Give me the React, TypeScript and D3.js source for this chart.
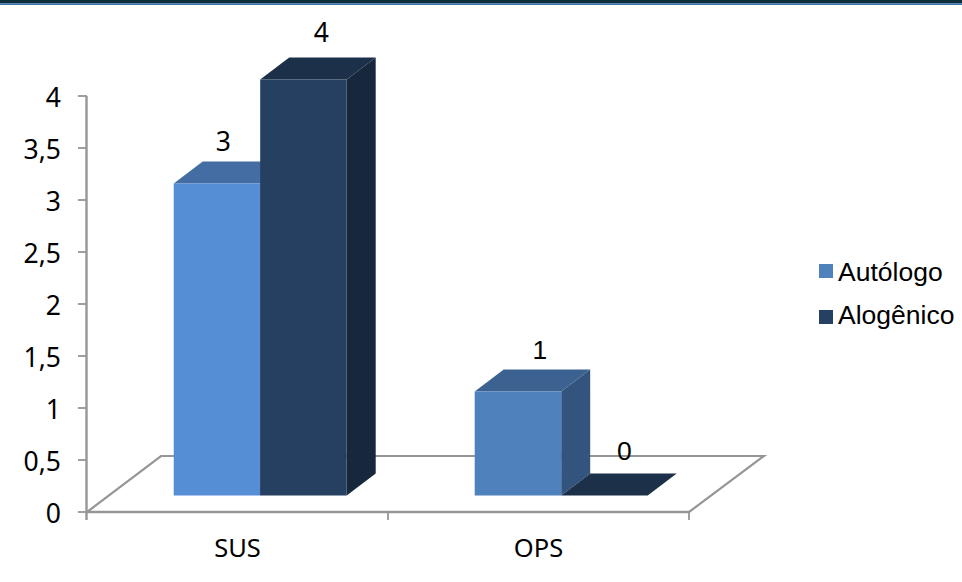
import React from "react";
import * as d3 from "d3";

const categories = ["SUS", "OPS"];
const seriesNames = ["Autólogo", "Alogênico"];
const autologo = [3, 1];
const alogenico = [4, 0];
const yTicks = [0, 0.5, 1, 1.5, 2, 2.5, 3, 3.5, 4];
const tickLabels = ["0", "0,5", "1", "1,5", "2", "2,5", "3", "3,5", "4"];

const uiFont = "'Noto Sans', 'Open Sans', sans-serif";
const legendFont = "'Liberation Sans', Arial, sans-serif";
const axisColor = "#969696";

const x = d3.scaleBand<string>().domain(categories).range([87, 689]);
const inner = d3.scaleBand<string>().domain(seriesNames).range([0, 173]);
const y = d3.scaleLinear().domain([0, 4]).range([512, 96]);

const dx = 29;
const dy = -22;
const floorDx = 74;
const floorDy = -56;
const lift = -16.5;
const groupOffset = 86.7;

// placement of each data label relative to its bar's front face
const labelNudge: Record<string, { x: number; y: number; font: string }> = {
  SUSAutólogo: { x: 6.5, y: -33, font: uiFont },
  SUSAlogênico: { x: 18, y: -38, font: uiFont },
  OPSAutólogo: { x: 22, y: -33, font: legendFont },
  OPSAlogênico: { x: 20, y: -36, font: legendFont },
};

type Shade = { front: string; top: string; side: string };
const shades: Shade[][] = [
  [
    { front: "#558ed5", top: "#436da3", side: "#3a5f8f" },
    { front: "#4f81bd", top: "#3b6291", side: "#33547c" },
  ],
  [
    { front: "#254061", top: "#1d3049", side: "#17283d" },
    { front: "#254061", top: "#1d3049", side: "#17283d" },
  ],
];
const values = [autologo, alogenico];

const pts = (p: [number, number][]) => p.map((d) => d.join(",")).join(" ");

export default function App() {
  const x0 = x(categories[0])!;
  const x1 = x.range()[1];
  const yBase = y(0);
  const bars = categories.flatMap((c, ci) =>
    seriesNames.map((s, si) => {
      const left = x(c)! + groupOffset + inner(s)!;
      const w = inner.bandwidth();
      const bottom = y(0) + lift;
      const top = y(values[si][ci]) + lift;
      return { key: c + s, left, w, bottom, top, v: values[si][ci], shade: shades[si][ci] };
    })
  );
  return (
    <svg width={962} height={582} style={{ position: "absolute", left: 0, top: 0, background: "#fff" }}>
      <rect x={0} y={0} width={962} height={3.5} fill="#0c2f3b" />
      <rect x={0} y={3.5} width={962} height={1.5} fill="#3f74b5" />

      <polyline
        points={pts([[x0, yBase], [x0 + floorDx, yBase + floorDy], [x1 + floorDx + 1, yBase + floorDy], [x1, yBase]])}
        fill="none"
        stroke={axisColor}
        strokeWidth={2.2}
      />
      <line x1={x0 - 0.5} x2={x0 - 0.5} y1={y(4)} y2={yBase + 8} stroke={axisColor} strokeWidth={2.4} />
      <line x1={x0} x2={x1} y1={yBase} y2={yBase} stroke={axisColor} strokeWidth={2.4} />
      {yTicks.map((t, i) => (
        <g key={t}>
          <line x1={x0 - 9} x2={x0} y1={y(t)} y2={y(t)} stroke={axisColor} strokeWidth={1.8} />
          <text x={61} y={y(t) + 11} textAnchor="end" fontFamily={uiFont} fontSize={26.5} fill="#000">
            {tickLabels[i]}
          </text>
        </g>
      ))}
      {categories.map((c) => (
        <g key={c}>
          <line x1={x(c)! + x.bandwidth()} x2={x(c)! + x.bandwidth()} y1={yBase} y2={yBase + 8} stroke={axisColor} strokeWidth={1.8} />
          <text x={x(c)! + x.bandwidth() / 2} y={556.5} textAnchor="middle" fontFamily={uiFont} fontSize={25.5} fill="#000">
            {c}
          </text>
        </g>
      ))}

      {bars.map((b) => (
        <g key={b.key}>
          <polygon
            points={pts([[b.left + b.w, b.bottom], [b.left + b.w + dx, b.bottom + dy], [b.left + b.w + dx, b.top + dy], [b.left + b.w, b.top]])}
            fill={b.shade.side}
          />
          <polygon
            points={pts([[b.left, b.top], [b.left + dx, b.top + dy], [b.left + b.w + dx, b.top + dy], [b.left + b.w, b.top]])}
            fill={b.shade.top}
          />
          <rect x={b.left} y={b.top} width={b.w} height={b.bottom - b.top} fill={b.shade.front} />
        </g>
      ))}
      {bars.map((b) => (
        <text
          key={b.key + "l"}
          x={b.left + b.w / 2 + labelNudge[b.key].x}
          y={b.top + labelNudge[b.key].y}
          textAnchor="middle"
          fontFamily={labelNudge[b.key].font}
          fontSize={26.5}
          fill="#000"
        >
          {b.v}
        </text>
      ))}

      {seriesNames.map((s, i) => (
        <g key={s}>
          <rect x={819} y={264 + i * 46} width={14} height={14} fill={shades[i][1].front} />
          <text x={838} y={280.5 + i * 43.5} fontFamily={legendFont} fontSize={26.5} fill="#000">
            {s}
          </text>
        </g>
      ))}
    </svg>
  );
}
